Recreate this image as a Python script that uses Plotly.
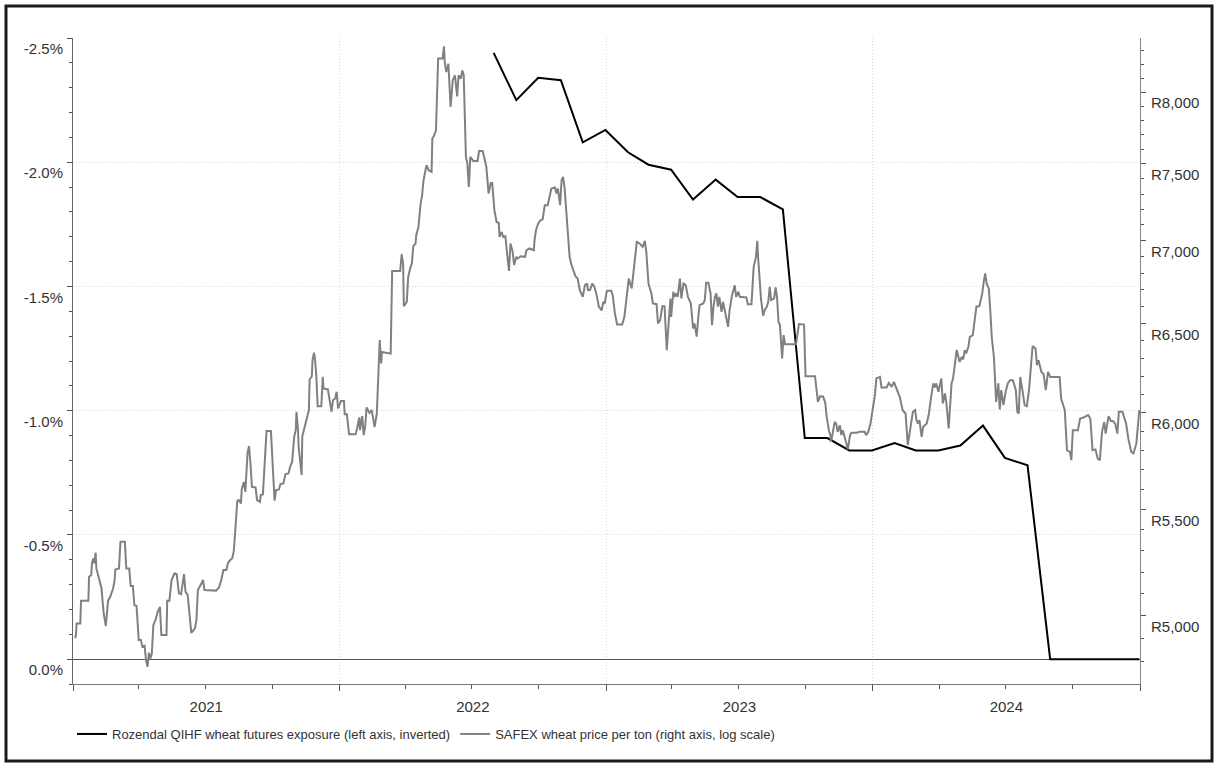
import plotly.graph_objects as go

# ---- Rozendal QIHF wheat futures exposure (% of fund, month end) ----
exposure_dates = [
    "2022-07-31", "2022-08-31", "2022-09-30", "2022-10-31", "2022-11-30", "2022-12-31",
    "2023-01-31", "2023-02-28", "2023-03-31", "2023-04-30", "2023-05-31", "2023-06-30",
    "2023-07-31", "2023-08-31", "2023-09-30", "2023-10-31", "2023-11-30", "2023-12-31",
    "2024-01-31", "2024-02-29", "2024-03-31", "2024-04-30", "2024-05-31", "2024-06-30",
    "2024-07-31", "2024-08-31", "2024-09-30", "2024-10-31", "2024-11-30", "2024-12-31",
]
exposure_pct = [
    -2.44, -2.25, -2.34, -2.33, -2.08, -2.13,
    -2.04, -1.99, -1.97, -1.85, -1.93, -1.86,
    -1.86, -1.81, -0.89, -0.89, -0.84, -0.84,
    -0.87, -0.84, -0.84, -0.86, -0.94, -0.81,
    -0.78, 0.0, 0.0, 0.0, 0.0, 0.0,
]

# ---- SAFEX wheat price (R per ton), by year: month-day and price ----
md_2021 = [
    "01-04", "01-05", "01-06", "01-11", "01-12", "01-22", "01-23", "01-26", "01-27", "01-29",
    "01-30", "02-01", "02-02", "02-04", "02-07", "02-09", "02-12", "02-15", "02-18", "02-21",
    "02-25", "02-27", "02-28", "03-05", "03-07", "03-13", "03-15", "03-19", "03-21", "03-24",
    "03-26", "03-29", "04-01", "04-04", "04-06", "04-09", "04-11", "04-13", "04-15", "04-17",
    "04-19", "04-21", "04-24", "04-27", "04-30", "05-02", "05-09", "05-10", "05-13", "05-16",
    "05-20", "05-23", "05-26", "05-29", "06-02", "06-04", "06-07", "06-10", "06-12", "06-17",
    "06-19", "06-21", "06-24", "06-26", "06-28", "06-30", "07-16", "07-20", "07-23", "07-26",
    "07-30", "08-01", "08-04", "08-07", "08-09", "08-10", "08-14", "08-16", "08-19", "08-20",
    "08-23", "08-25", "08-28", "08-30", "09-01", "09-03", "09-08", "09-10", "09-14", "09-15",
    "09-18", "09-21", "09-23", "09-29", "10-01", "10-04", "10-06", "10-10", "10-12", "10-16",
    "10-19", "10-23", "10-26", "10-28", "10-31", "11-02", "11-03", "11-05", "11-06", "11-10",
    "11-11", "11-14", "11-16", "11-18", "11-20", "11-21", "11-24", "11-25", "11-27", "11-28",
    "11-30", "12-02", "12-07", "12-09", "12-10", "12-16", "12-18", "12-21", "12-23", "12-26",
    "12-28", "12-30",
]
price_2021 = [
    4900, 4915, 4965, 4965, 5068, 5068, 5178, 5186, 5243, 5264,
    5240, 5291, 5217, 5186, 5148, 5125, 5011, 4954, 5068, 5086,
    5125, 5163, 5212, 5217, 5343, 5343, 5217, 5217, 5135, 5135,
    5048, 5044, 4892, 4892, 4863, 4867, 4805, 4776, 4837, 4812,
    4834, 4958, 4981, 5018, 5040, 4914, 4914, 5068, 5068, 5163,
    5194, 5190, 5102, 5098, 5190, 5109, 5094, 4981, 4924, 4944,
    4981, 5117, 5132, 5148, 5163, 5117, 5114, 5129, 5163, 5209,
    5209, 5240, 5256, 5264, 5296, 5336, 5544, 5547, 5530, 5600,
    5638, 5588, 5787, 5822, 5732, 5613, 5610, 5547, 5538, 5572,
    5575, 5749, 5902, 5902, 5749, 5544, 5597, 5600, 5627, 5630,
    5678, 5681, 5723, 5740, 5874, 5906, 6004, 5913, 5818, 5673,
    5874, 5923, 5945, 5981, 6013, 6181, 6199, 6289, 6331, 6308,
    6214, 6034, 6034, 6195, 6131, 6126, 6076, 6004, 6067, 6076,
    6113, 6022,
]

md_2022 = [
    "01-03", "01-07", "01-08", "01-11", "01-14", "01-23", "01-25", "01-28", "01-29", "02-01",
    "02-03", "02-05", "02-07", "02-11", "02-14", "02-18", "02-21", "02-25", "02-27", "02-28",
    "03-12", "03-14", "03-25", "03-27", "03-29", "03-30", "04-03", "04-05", "04-08", "04-10",
    "04-12", "04-15", "04-16", "04-19", "04-22", "04-24", "04-26", "04-30", "05-03", "05-07",
    "05-08", "05-10", "05-13", "05-16", "05-22", "05-24", "05-25", "05-27", "05-30", "06-02",
    "06-05", "06-08", "06-11", "06-13", "06-16", "06-18", "06-20", "06-23", "06-25", "06-27",
    "06-29", "07-03", "07-09", "07-11", "07-16", "07-19", "07-21", "07-24", "07-27", "07-29",
    "08-01", "08-04", "08-07", "08-08", "08-11", "08-13", "08-16", "08-17", "08-21", "08-23",
    "08-26", "08-28", "08-31", "09-02", "09-06", "09-12", "09-14", "09-18", "09-24", "09-25",
    "09-27", "09-30", "10-03", "10-06", "10-09", "10-13", "10-16", "10-18", "10-23", "10-25",
    "10-27", "10-30", "11-01", "11-03", "11-05", "11-08", "11-10", "11-12", "11-14", "11-17",
    "11-20", "11-23", "11-26", "11-30", "12-03", "12-06", "12-07", "12-10", "12-13", "12-16",
    "12-19", "12-22", "12-26", "12-28", "12-30",
]
price_2022 = [
    6063, 6063, 5991, 5991, 5885, 5885, 5915, 5974, 5906, 5981,
    5880, 5923, 6028, 5998, 6013, 5923, 5995, 6403, 6270, 6335,
    6326, 6813, 6813, 6916, 6858, 6601, 6627, 6777, 6834, 6858,
    6966, 6983, 7035, 7088, 7238, 7292, 7391, 7491, 7458, 7447,
    7673, 7689, 7730, 8244, 8244, 8335, 8219, 8145, 8206, 7893,
    8085, 8121, 7969, 8121, 8097, 8157, 8121, 7547, 7503, 7347,
    7547, 7520, 7520, 7588, 7588, 7514, 7480, 7304, 7373, 7373,
    7195, 7119, 7113, 7025, 7056, 7025, 7029, 6983, 6813, 6983,
    6931, 6849, 6900, 6890, 6904, 6900, 6941, 6952, 6941, 7004,
    7067, 7110, 7130, 7135, 7227, 7227, 7292, 7336, 7343, 7304,
    7336, 7227, 7391, 7413, 7347, 7162, 7067, 6900, 6858, 6813,
    6781, 6767, 6697, 6657, 6727, 6737, 6697, 6697, 6737, 6717,
    6667, 6598, 6577, 6627, 6617,
]

md_2023 = [
    "01-02", "01-08", "01-10", "01-13", "01-16", "01-23", "01-26", "01-30", "02-01", "02-05",
    "02-08", "02-10", "02-12", "02-16", "02-20", "02-23", "02-25", "02-28", "03-04", "03-06",
    "03-11", "03-13", "03-16", "03-19", "03-22", "03-25", "03-28", "03-30", "03-31", "04-03",
    "04-05", "04-07", "04-09", "04-12", "04-14", "04-17", "04-20", "04-23", "04-27", "04-30",
    "05-02", "05-05", "05-07", "05-09", "05-14", "05-16", "05-18", "05-21", "05-24", "05-26",
    "05-28", "05-30", "06-01", "06-03", "06-05", "06-08", "06-10", "06-14", "06-17", "06-19",
    "06-22", "06-26", "06-28", "07-01", "07-03", "07-12", "07-14", "07-19", "07-22", "07-25",
    "07-27", "07-28", "07-30", "08-01", "08-04", "08-06", "08-09", "08-11", "08-13", "08-15",
    "08-19", "08-21", "08-23", "08-25", "08-27", "08-29", "08-30", "09-01", "09-03", "09-18",
    "09-22", "09-29", "10-01", "10-14", "10-16", "10-18", "10-21", "10-25", "10-28", "10-30",
    "11-02", "11-04", "11-05", "11-08", "11-10", "11-12", "11-14", "11-17", "11-19", "11-21",
    "11-24", "11-26", "11-28", "12-01", "12-03", "12-10", "12-14", "12-21", "12-23", "12-26",
    "12-29",
]
price_2023 = [
    6693, 6693, 6667, 6558, 6494, 6494, 6538, 6677, 6767, 6707,
    6818, 6879, 6993, 6983, 6962, 7000, 6931, 6737, 6677, 6617,
    6613, 6500, 6519, 6601, 6601, 6346, 6558, 6647, 6538, 6687,
    6657, 6677, 6657, 6767, 6647, 6737, 6727, 6657, 6617, 6471,
    6500, 6423, 6529, 6607, 6617, 6637, 6742, 6742, 6677, 6490,
    6598, 6657, 6677, 6598, 6657, 6568, 6627, 6538, 6480, 6577,
    6657, 6727, 6657, 6687, 6657, 6653, 6613, 6613, 6838, 6896,
    6999, 6904, 6794, 6647, 6544, 6577, 6598, 6627, 6717, 6637,
    6647, 6713, 6657, 6509, 6490, 6364, 6298, 6432, 6380, 6380,
    6496, 6493, 6199, 6199, 6108, 6058, 6088, 6087, 6054, 5977,
    5906, 5880, 5844, 5897, 5950, 5941, 5897, 5932, 5880, 5906,
    5871, 5836, 5805, 5880, 5892, 5892, 5897, 5897, 5880, 5897,
    5941,
]

md_2024 = [
    "01-02", "01-04", "01-06", "01-11", "01-13", "01-20", "01-23", "01-27", "01-30", "02-02",
    "02-07", "02-11", "02-15", "02-18", "02-22", "02-25", "02-28", "03-01", "03-03", "03-05",
    "03-08", "03-10", "03-15", "03-18", "03-21", "03-24", "03-26", "03-28", "03-31", "04-02",
    "04-04", "04-06", "04-09", "04-11", "04-14", "04-18", "04-20", "04-25", "04-27", "04-29",
    "05-02", "05-04", "05-06", "05-08", "05-11", "05-13", "05-17", "05-20", "05-22", "05-26",
    "05-28", "05-30", "06-01", "06-03", "06-05", "06-08", "06-10", "06-12", "06-15", "06-17",
    "06-18", "06-21", "06-23", "06-25", "06-28", "07-01", "07-04", "07-07", "07-11", "07-15",
    "07-17", "07-19", "07-21", "07-24", "07-27", "07-30", "08-02", "08-05", "08-07", "08-11",
    "08-13", "08-15", "08-19", "08-22", "08-25", "08-28", "08-31", "09-13", "09-15", "09-20",
    "09-23", "09-27", "09-29", "10-01", "10-08", "10-11", "10-16", "10-22", "10-25", "10-28",
    "11-01", "11-04", "11-07", "11-10", "11-13", "11-15", "11-19", "11-22", "11-25", "11-28",
    "12-01", "12-03", "12-08", "12-13", "12-16", "12-20", "12-23", "12-27", "12-31",
]
price_2024 = [
    6049, 6094, 6186, 6195, 6137, 6137, 6162, 6140, 6168, 6137,
    6085, 6013, 5995, 5827, 5915, 6004, 6013, 5959, 5941, 5959,
    5871, 5923, 5941, 5995, 6085, 6159, 6137, 6159, 6113, 6159,
    6186, 6049, 6104, 6049, 5915, 6159, 6186, 6346, 6317, 6279,
    6308, 6293, 6346, 6327, 6365, 6422, 6432, 6519, 6598, 6601,
    6637, 6677, 6747, 6798, 6737, 6707, 6577, 6422, 6304, 6085,
    6058, 6159, 6017, 6122, 6040, 6113, 6159, 6177, 6177, 6122,
    6004, 5995, 6195, 6122, 6040, 6034, 6122, 6270, 6369, 6355,
    6261, 6289, 6223, 6210, 6122, 6223, 6195, 6195, 6076, 6013,
    5801, 5792, 5749, 5906, 5906, 5968, 5974, 5986, 5968, 5801,
    5805, 5758, 5749, 5897, 5950, 5888, 5981, 5955, 5955, 5941,
    5888, 6004, 6004, 5941, 5862, 5792, 5784, 5836, 6013,
]

safex_dates = (
    [f"2021-{d}" for d in md_2021]
    + [f"2022-{d}" for d in md_2022]
    + [f"2023-{d}" for d in md_2023]
    + [f"2024-{d}" for d in md_2024]
)
safex_price = price_2021 + price_2022 + price_2023 + price_2024

# ---- axis ticks ----
left_ticks = [-2.5, -2.0, -1.5, -1.0, -0.5, 0.0]
left_labels = ["-2.5%", "-2.0%", "-1.5%", "-1.0%", "-0.5%", "0.0%"]
right_ticks = [5000, 5500, 6000, 6500, 7000, 7500, 8000]
right_labels = ["R5,000", "R5,500", "R6,000", "R6,500", "R7,000", "R7,500", "R8,000"]
right_minor = [v for v in range(4800, 8500, 100) if v not in right_ticks]

FONT = "Arial, Liberation Sans, sans-serif"
W, H = 1216, 765
ML, MR, MT, MB = 73, 76, 38, 81
PW, PH = W - ML - MR, H - MT - MB
GRID = "#d9d9d9"
GRID_DASH = "1px,2px"

fig = go.Figure()

fig.add_trace(go.Scatter(
    x=exposure_dates, y=exposure_pct, mode="lines",
    name="Rozendal QIHF wheat futures exposure (left axis, inverted)",
    line=dict(color="#000000", width=2), yaxis="y",
))
fig.add_trace(go.Scatter(
    x=safex_dates, y=safex_price, mode="lines",
    name="SAFEX wheat price per ton (right axis, log scale)",
    line=dict(color="#808080", width=2), yaxis="y2",
))

tickfont = dict(family=FONT, size=15, color="#333333")

fig.update_layout(
    width=W, height=H,
    margin=dict(l=ML, r=MR, t=MT, b=MB, pad=0),
    paper_bgcolor="white", plot_bgcolor="white",
    font=dict(family=FONT, color="#333333"),
    showlegend=True,
    legend=dict(
        orientation="h", x=(72 - ML) / PW, xanchor="left",
        y=(MT + PH - 719) / PH, yanchor="top",
        font=dict(family=FONT, size=13, color="#333333"),
        bgcolor="rgba(0,0,0,0)", itemwidth=30, tracegroupgap=0,
    ),
    xaxis=dict(
        type="date", range=["2021-01-01", "2025-01-01"],
        tick0="2021-01-01", dtick="M12", tickformat="%Y",
        ticklabelmode="period", ticklabelstandoff=3,
        ticks="outside", ticklen=6, tickcolor="#555555",
        showline=True, linecolor="#777777", linewidth=1,
        showgrid=True, gridcolor=GRID, griddash=GRID_DASH, gridwidth=1,
        zeroline=False, tickfont=tickfont,
        minor=dict(dtick="M3", tick0="2021-01-01", ticks="outside",
                   ticklen=4, tickcolor="#555555", showgrid=False),
    ),
    yaxis=dict(
        range=[0.1, -2.5], tickmode="array",
        tickvals=left_ticks, ticktext=left_labels,
        ticks="outside", ticklen=5, tickcolor="#555555",
        ticklabelposition="outside bottom", ticklabelstandoff=6,
        showline=True, linecolor="#666666", linewidth=1,
        showgrid=True, gridcolor=GRID, griddash=GRID_DASH, gridwidth=1,
        zeroline=True, zerolinecolor="#555555", zerolinewidth=1,
        tickfont=tickfont,
        minor=dict(dtick=0.1, tick0=0, ticks="outside", ticklen=3,
                   tickcolor="#555555", showgrid=False),
    ),
    yaxis2=dict(
        type="log", overlaying="y", side="right",
        range=[3.67236, 3.92414], tickmode="array",
        tickvals=right_ticks, ticktext=right_labels,
        ticks="outside", ticklen=5, tickcolor="#555555",
        ticklabelposition="outside bottom", ticklabelstandoff=7,
        showline=True, linecolor="#888888", linewidth=1,
        showgrid=False, zeroline=False, tickfont=tickfont,
        minor=dict(tickvals=right_minor, ticks="outside", ticklen=3,
                   tickcolor="#555555", showgrid=False),
    ),
)

# outer frame round the whole figure
fig.add_shape(
    type="rect", xref="paper", yref="paper", layer="above",
    x0=(6 - ML) / PW, x1=(1212 - ML) / PW,
    y0=(MT + PH - 761) / PH, y1=(MT + PH - 6) / PH,
    line=dict(color="#1a1a1a", width=3), fillcolor="rgba(0,0,0,0)",
)

fig.write_html("out.html")
